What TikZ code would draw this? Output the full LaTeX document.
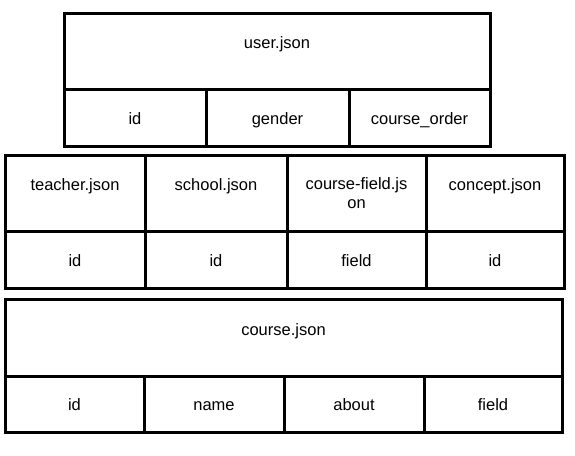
\documentclass[tikz,border=0pt]{standalone}
\usepackage{fontspec}
\setmainfont{Liberation Sans}
\begin{document}
\begin{tikzpicture}[x=1pt, y=-1pt,
	font=\fontsize{16.5}{19}\selectfont,
	every node/.style={draw, rectangle, line width=3pt, inner sep=0pt, outer sep=0pt, text height=14pt, text depth=1pt},
	head/.style={text height=12pt, text depth=17pt}]
	
	\useasboundingbox (0,0) rectangle (575,455);
	
	\node[head, minimum width=426pt, minimum height=76pt] (user) at (277,51) {user.json};
	\node[minimum width=142pt, minimum height=57pt] (user1) at (135,117.5) {id};
	\node[minimum width=143pt, minimum height=57pt] (user2) at (277.5,117.5) {gender};
	\node[minimum width=141pt, minimum height=57pt] (user3) at (419.5,117.5) {course\_order};
	
	\node[head, minimum width=140pt, minimum height=76pt] (teacher) at (75,193) {teacher.json};
	\node[head, minimum width=142pt, minimum height=76pt] (school) at (216,193) {school.json};
	\node[text height=, text depth=, align=center, minimum width=139pt, minimum height=76pt] (field) at (356.5,193) {course-field.js\\on};
	\node[head, minimum width=138pt, minimum height=76pt] (concept) at (495,193) {concept.json};
	\node[minimum width=140pt, minimum height=57pt] (teacher1) at (75,259.5) {id};
	\node[minimum width=142pt, minimum height=57pt] (school1) at (216,259.5) {id};
	\node[minimum width=139pt, minimum height=57pt] (field1) at (356.5,259.5) {field};
	\node[minimum width=138pt, minimum height=57pt] (concept1) at (495,259.5) {id};
	
	\node[head, minimum width=557pt, minimum height=77pt] (course) at (283.5,337.5) {course.json};
	\node[minimum width=139pt, minimum height=56pt] (course1) at (74.5,404) {id};
	\node[minimum width=140pt, minimum height=56pt] (course2) at (214,404) {name};
	\node[minimum width=140pt, minimum height=56pt] (course3) at (354,404) {about};
	\node[minimum width=138pt, minimum height=56pt] (course4) at (493,404) {field};
	
\end{tikzpicture}
\end{document}
